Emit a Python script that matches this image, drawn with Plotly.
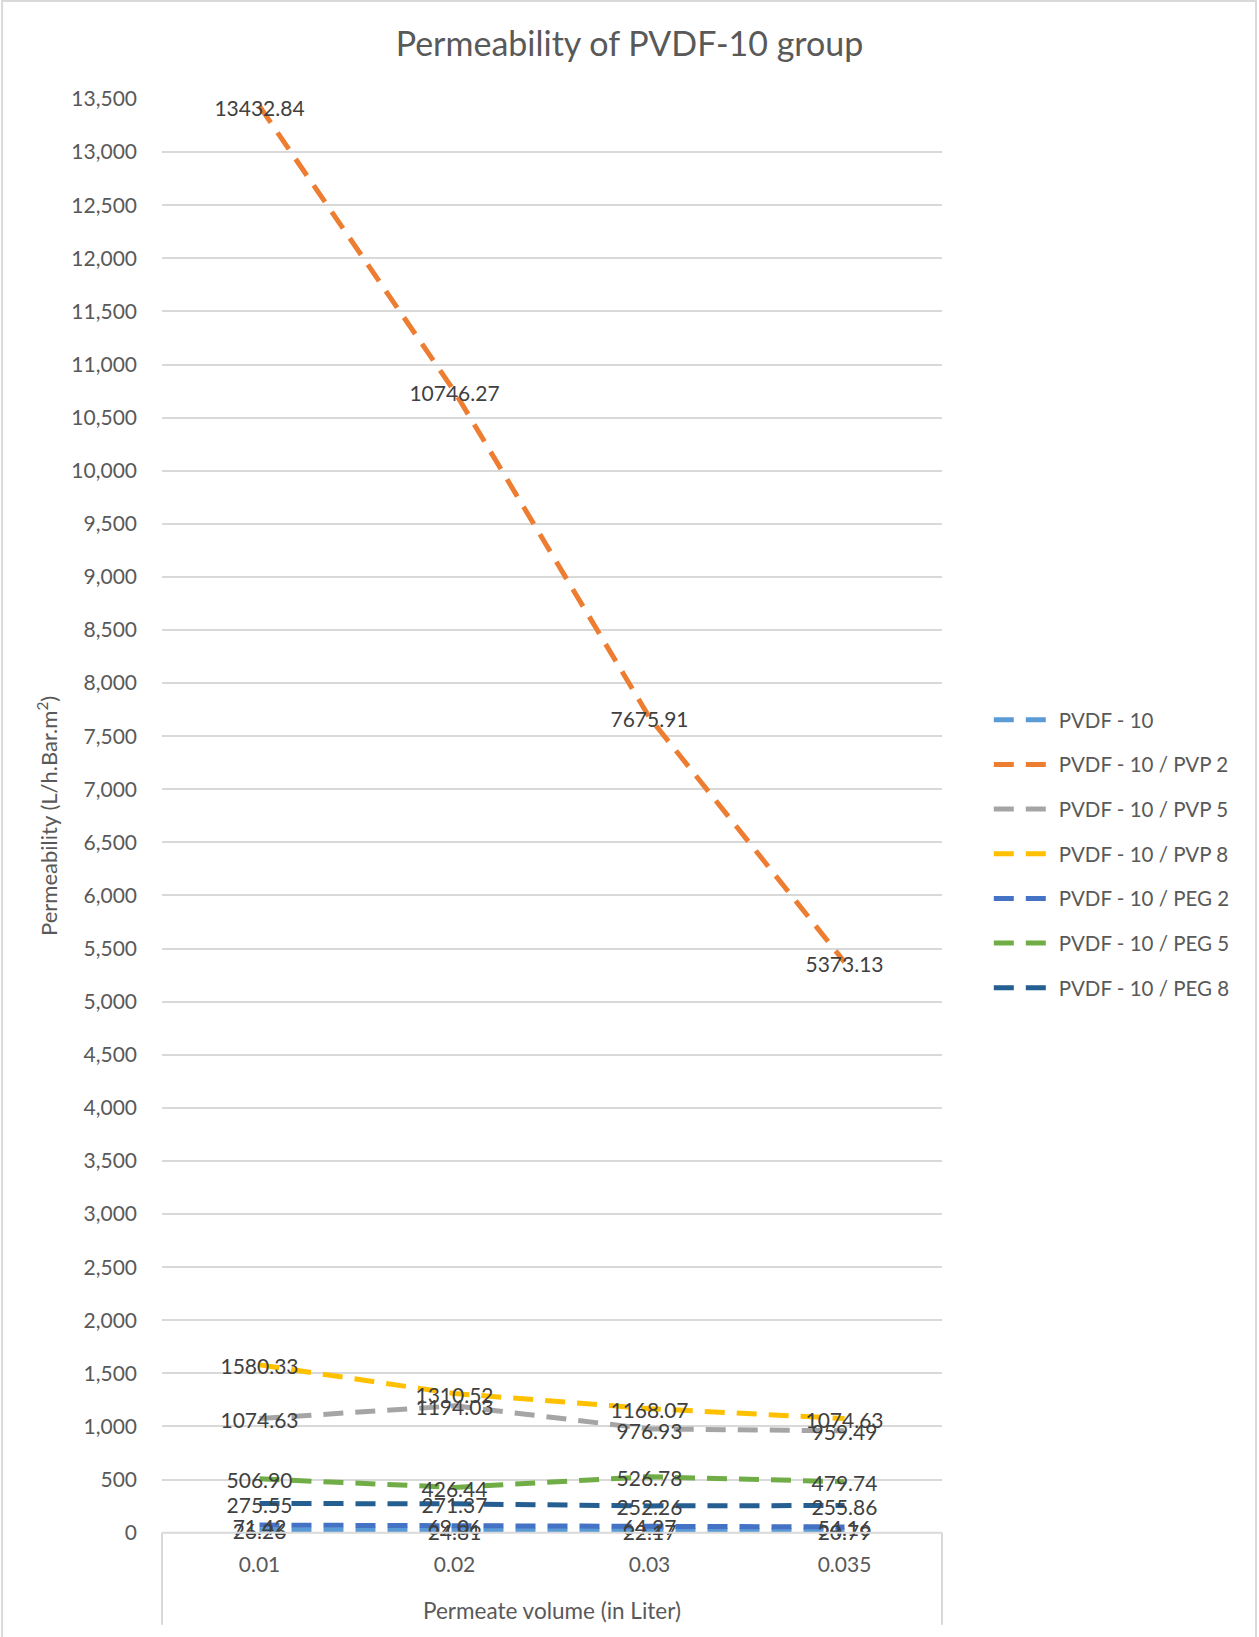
import plotly.graph_objects as go

volumes = ["0.01", "0.02", "0.03", "0.035"]

pvdf10 = [26.26, 24.81, 22.17, 20.79]
pvdf10_pvp2 = [13432.84, 10746.27, 7675.91, 5373.13]
pvdf10_pvp5 = [1074.63, 1194.03, 976.93, 959.49]
pvdf10_pvp8 = [1580.33, 1310.52, 1168.07, 1074.63]
pvdf10_peg2 = [71.42, 69.06, 64.27, 54.16]
pvdf10_peg5 = [506.90, 426.44, 526.78, 479.74]
pvdf10_peg8 = [275.55, 271.37, 252.26, 255.86]

series = [
    ("PVDF - 10", pvdf10, "#5B9BD5"),
    ("PVDF - 10 / PVP 2", pvdf10_pvp2, "#ED7D31"),
    ("PVDF - 10 / PVP 5", pvdf10_pvp5, "#A5A5A5"),
    ("PVDF - 10 / PVP 8", pvdf10_pvp8, "#FFC000"),
    ("PVDF - 10 / PEG 2", pvdf10_peg2, "#4472C4"),
    ("PVDF - 10 / PEG 5", pvdf10_peg5, "#70AD47"),
    ("PVDF - 10 / PEG 8", pvdf10_peg8, "#255E91"),
]

FONT = "Lato, Open Sans, sans-serif"

fig = go.Figure()

# lines first (these carry the legend)
for name, vals, color in series:
    fig.add_trace(go.Scatter(
        x=volumes, y=vals, name=name, mode="lines",
        line=dict(color=color, width=5, dash="20px,12px"),
        legendgroup=name,
    ))

# data labels on top, centred on the points like Excel
# (second hidden subplot sits a few px lower, as Excel's labels do)
for name, vals, color in series:
    fig.add_trace(go.Scatter(
        x=volumes, y=vals, mode="text", xaxis="x2", yaxis="y2",
        text=[f"{v:.2f}" for v in vals],
        textposition="middle center",
        textfont=dict(family=FONT, size=21, color="#404040"),
        cliponaxis=False,
        showlegend=False, hoverinfo="skip",
    ))

grey = "#D9D9D9"
d0 = 0.003  # main subplot bottom in paper units
fig.update_layout(
    width=1259, height=1637,
    margin=dict(l=162, r=317, t=99, b=100),
    paper_bgcolor="white", plot_bgcolor="rgba(0,0,0,0)",
    font=dict(family=FONT, color="#595959"),
    title=dict(text="Permeability of PVDF-10 group", x=0.5, xanchor="center",
               y=1 - 44 / 1637, yanchor="middle",
               font=dict(family=FONT, size=34, color="#595959")),
    showlegend=True,
    legend=dict(x=1.06, xanchor="left", y=0.475, yanchor="middle",
                font=dict(family=FONT, size=20.5, color="#595959"),
                tracegroupgap=15, itemwidth=60),
    xaxis2=dict(type="category", range=[-0.5, 3.5], domain=[0, 1],
                anchor="y2", visible=False, categoryarray=volumes),
    yaxis2=dict(range=[0, 13500], domain=[0, 1 - d0], anchor="x2", visible=False),
    shapes=[
        # horizontal axis box
        dict(type="line", xref="paper", yref="paper", x0=0, x1=1, y0=d0, y1=d0,
             line=dict(color=grey, width=2)),
        dict(type="line", xref="paper", yref="paper", x0=0, x1=0, y0=d0, y1=-0.061,
             line=dict(color=grey, width=2)),
        dict(type="line", xref="paper", yref="paper", x0=1, x1=1, y0=d0, y1=-0.061,
             line=dict(color=grey, width=2)),
        # chart border
        dict(type="rect", xref="paper", yref="paper", x0=-0.205, x1=1.4026,
             y0=-0.2, y1=1.0682, line=dict(color=grey, width=2), layer="below"),
    ],
)

fig.update_layout(xaxis=dict(
    type="category", range=[-0.5, 3.5], showgrid=False, showline=False,
    ticks="", tickfont=dict(family=FONT, size=21, color="#595959"),
    ticklabelstandoff=17,
    title=dict(text="Permeate volume (in Liter)", standoff=28,
               font=dict(family=FONT, size=22.5, color="#595959")),
))
fig.update_layout(yaxis=dict(
    domain=[d0, 1],
    range=[0, 13500], dtick=500, tickformat=",", showgrid=True,
    gridcolor=grey, gridwidth=1.5, zeroline=False, showline=False,
    ticks="", tickfont=dict(family=FONT, size=21, color="#595959"),
    ticklabelstandoff=24,
    title=dict(text="Permeability (L/h.Bar.m<sup>2</sup>)", standoff=7,
               font=dict(family=FONT, size=22, color="#595959")),
))

fig.write_html("out.html", config={"displayModeBar": False},
               post_script="document.body.style.margin='0';")
